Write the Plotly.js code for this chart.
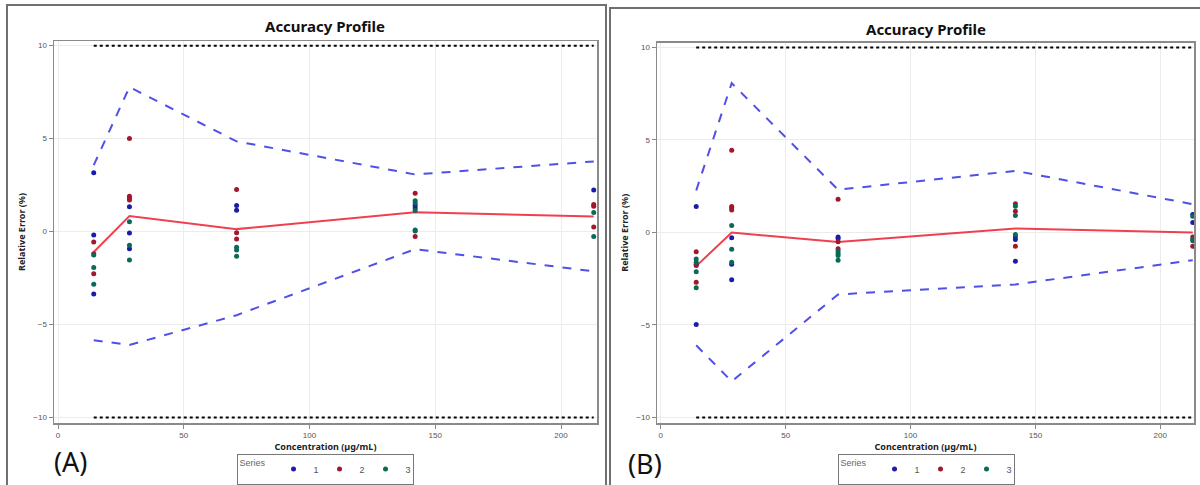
<!DOCTYPE html>
<html>
<head>
<meta charset="utf-8">
<script src="https://cdn.plot.ly/plotly-3.0.1.min.js"></script>
<style>html,body{margin:0;padding:0;background:#fff;}#chart{width:1200px;height:485px;}</style>
</head>
<body>
<div id="chart"></div>
<script>
// ---------- DATA ----------
const concentrations = [14.2, 28.4, 71, 142, 213];
const seriesNames = ["1", "2", "3"];

// Panel A: relative error (%) per series, grouped by concentration level
const A_series1 = [[3.16, -0.18, -3.36], [1.34, -0.08, -0.92], [1.4, 1.15], [1.41, 1.27], [2.24]];
const A_series2 = [[-0.56, -1.19, -2.27], [5.0, 1.9, 1.79, 1.7], [2.26, -0.07, -0.4], [2.06, -0.27], [1.45, 1.36, 0.25]];
const A_series3 = [[-1.26, -1.93, -2.84], [0.53, -0.74, -1.53], [-0.84, -1.0, -1.33], [1.66, 1.54, 1.13, 0.08, 0.03], [1.03, -0.27]];
const A_upper = [3.57, 7.77, 4.85, 3.07, 3.77];
const A_lower = [-5.85, -6.1, -4.5, -0.95, -2.14];
const A_mean  = [-1.1, 0.83, 0.13, 1.04, 0.81];

// Panel B
const B_series1 = [[1.41, -1.74, -4.97], [-0.29, -1.72, -2.56], [-0.24, -0.32], [-0.23, -0.38, -1.55], [0.54, 0.97]];
const B_series2 = [[-1.04, -1.79, -2.69], [4.44, 1.41, 1.34, 1.21], [1.79, -0.5, -0.88], [1.55, 1.15, -0.74], [-0.25, -0.75]];
const B_series3 = [[-1.43, -1.61, -2.12, -2.99], [0.38, -0.91, -1.61], [-1.0, -1.13, -1.25, -1.5], [1.42, 0.92, -0.11], [0.88, -0.36, -0.45]];
const B_upper = [2.27, 8.07, 2.31, 3.33, 1.53];
const B_lower = [-6.1, -8.05, -3.35, -2.81, -1.5];
const B_mean  = [-1.82, 0.0, -0.52, 0.22, 0.0];

const acceptanceLimit = [10, -10];
const xTicks = [0, 50, 100, 150, 200];
const yTicks = [-10, -5, 0, 5, 10];

// ---------- STYLE ----------
const seriesColors = ["#1c1ca8", "#a3172c", "#0b6a56"];
const limitColor = "#5050e6";
const meanColor = "#f0404f";
const FONT = "Noto Sans, Open Sans, Liberation Sans, sans-serif";
const TICKFONT = "Liberation Sans, Arial, sans-serif";

function flatten(groups) {
  const xs = [], ys = [];
  groups.forEach((g, i) => g.forEach(v => { xs.push(concentrations[i]); ys.push(v); }));
  return {x: xs, y: ys};
}

const traces = [];
function addPanel(seriesGroups, upper, lower, mean, xa, ya, legendId) {
  const ends = [concentrations[0], concentrations[concentrations.length - 1]];
  acceptanceLimit.forEach(lim => {
    traces.push({x: ends, y: [lim, lim], xaxis: xa, yaxis: ya, mode: "lines",
      line: {color: "#000", width: 2, dash: "dot"}, showlegend: false, hoverinfo: "skip"});
  });
  [upper, lower].forEach(arr => {
    traces.push({x: concentrations, y: arr, xaxis: xa, yaxis: ya, mode: "lines",
      line: {color: limitColor, width: 2, dash: "dash"}, showlegend: false});
  });
  traces.push({x: concentrations, y: mean, xaxis: xa, yaxis: ya, mode: "lines",
    line: {color: meanColor, width: 2}, showlegend: false});
  seriesGroups.forEach((g, i) => {
    const p = flatten(g);
    traces.push({x: p.x, y: p.y, xaxis: xa, yaxis: ya, mode: "markers", name: seriesNames[i],
      legend: legendId, marker: {color: seriesColors[i], size: 5}});
  });
}
addPanel([A_series1, A_series2, A_series3], A_upper, A_lower, A_mean, "x", "y", "legend");
addPanel([B_series1, B_series2, B_series3], B_upper, B_lower, B_mean, "x2", "y2", "legend2");

function xAxis(domain, range, anchor) {
  return {domain: domain, range: range, anchor: anchor, tickvals: xTicks, ticks: "outside", ticklen: 4,
    tickcolor: "#888", tickfont: {family: TICKFONT, size: 8, color: "#555"},
    showline: true, mirror: true, linecolor: "#8a8a8a", linewidth: 1.5,
    showgrid: true, gridcolor: "#ececec", zeroline: false,
    title: {text: "Concentration (µg/mL)", font: {family: FONT, size: 9, color: "#222", weight: "bold"}, standoff: 4}};
}
function yAxis(domain, range, anchor) {
  return {domain: domain, range: range, anchor: anchor, tickvals: yTicks, ticks: "outside", ticklen: 4,
    tickcolor: "#888", tickfont: {family: TICKFONT, size: 8, color: "#555"},
    showline: true, mirror: true, linecolor: "#8a8a8a", linewidth: 1.5,
    showgrid: true, gridcolor: "#ececec", zeroline: false,
    title: {text: "Relative Error (%)", font: {family: FONT, size: 9, color: "#222", weight: "bold"}, standoff: 6}};
}

function legend(xc) {
  return {orientation: "h", x: xc, xanchor: "center", y: 1 - 469 / 485, yanchor: "middle",
    bordercolor: "#777", borderwidth: 1, bgcolor: "#fff", valign: "middle",
    font: {family: TICKFONT, size: 9, color: "#555"},
    title: {text: "Series", side: "left", font: {family: TICKFONT, size: 9, color: "#666"}},
    itemwidth: 30, entrywidth: 1, entrywidthmode: "pixels", tracegroupgap: 0};
}

const W = 1200, H = 485;
const px = v => v / W, py = v => 1 - v / H;

const layout = {
  width: W, height: H, margin: {l: 0, r: 0, t: 0, b: 0},
  paper_bgcolor: "#fff", plot_bgcolor: "#fff", showlegend: true,
  xaxis: xAxis([px(54), px(597)], [-1.6, 214.3], "y"),
  yaxis: yAxis([py(423), py(41)], [-10.3, 10.25], "x"),
  xaxis2: xAxis([px(657), px(1194)], [-1.5, 213.5], "y2"),
  yaxis2: yAxis([py(423), py(42.5)], [-10.3, 10.27], "x2"),
  legend: legend(px(325)),
  legend2: legend(px(926)),
  shapes: [
    {type: "rect", xref: "paper", yref: "paper", x0: px(7), x1: px(606), y0: -0.05, y1: py(5),
      line: {color: "#707070", width: 2}},
    {type: "rect", xref: "paper", yref: "paper", x0: px(610), x1: 1.05, y0: -0.05, y1: py(8),
      line: {color: "#707070", width: 2}}
  ],
  annotations: [
    {text: "<b>Accuracy Profile</b>", xref: "paper", yref: "paper", x: px(325), y: py(26),
      xanchor: "center", yanchor: "middle", showarrow: false, font: {family: FONT, size: 15, color: "#111"}},
    {text: "<b>Accuracy Profile</b>", xref: "paper", yref: "paper", x: px(926), y: py(29),
      xanchor: "center", yanchor: "middle", showarrow: false, font: {family: FONT, size: 15, color: "#111"}},
    {text: "(A)", xref: "paper", yref: "paper", x: px(70), y: py(461),
      xanchor: "center", yanchor: "middle", showarrow: false, font: {family: FONT, size: 27, color: "#111"}},
    {text: "(B)", xref: "paper", yref: "paper", x: px(645), y: py(463),
      xanchor: "center", yanchor: "middle", showarrow: false, font: {family: FONT, size: 27, color: "#111"}}
  ]
};

Plotly.newPlot("chart", traces, layout, {displayModeBar: false, staticPlot: true});
</script>
</body>
</html>
